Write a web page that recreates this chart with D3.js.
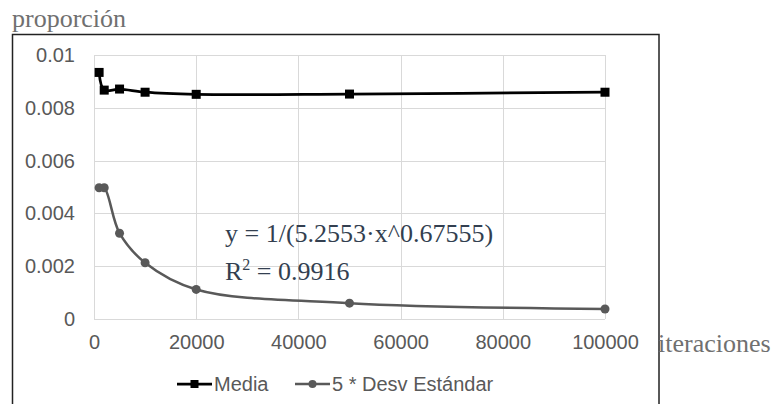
<!DOCTYPE html>
<html>
<head>
<meta charset="utf-8">
<script src="https://cdn.jsdelivr.net/npm/d3@7"></script>
<style>
  body { margin: 0; background: #fff; }
  svg { display: block; }
</style>
</head>
<body>
<div id="chart"></div>
<script>
const iterations = [1000, 2000, 5000, 10000, 20000, 50000, 100000];
const media = [0.00934, 0.00867, 0.00871, 0.00859, 0.00851, 0.00852, 0.00859];
const desv5 = [0.00497, 0.00497, 0.00325, 0.00213, 0.00112, 0.0006, 0.00038];
const xTicks = [0, 20000, 40000, 60000, 80000, 100000];
const yTicks = [0, 0.002, 0.004, 0.006, 0.008, 0.01];
const seriesNames = ['Media', '5 * Desv Estándar'];
const trendText = 'y = 1/(5.2553·x^0.67555)';
const r2Value = '0.9916';

const width = 775, height = 404;
const plot = { left: 94, right: 605, top: 55, bottom: 319 };

const svg = d3.select('#chart').append('svg')
  .attr('width', width)
  .attr('height', height);

// chart frame (bottom edge is cut off in the picture)
svg.append('rect')
  .attr('x', 12.5).attr('y', 34.5)
  .attr('width', 646.5).attr('height', 400)
  .attr('fill', 'none')
  .attr('stroke', '#222')
  .attr('stroke-width', 1.5);

const x = d3.scaleLinear().domain([0, 100000]).range([plot.left, plot.right]);
const y = d3.scaleLinear().domain([0, 0.01]).range([plot.bottom, plot.top]);

// grid
svg.append('g').selectAll('line.h')
  .data(yTicks).enter().append('line')
  .attr('x1', plot.left).attr('x2', plot.right)
  .attr('y1', d => Math.round(y(d)) + 0.5).attr('y2', d => Math.round(y(d)) + 0.5)
  .attr('stroke', '#d9d9d9').attr('stroke-width', 1);

svg.append('g').selectAll('line.v')
  .data(xTicks).enter().append('line')
  .attr('y1', plot.top).attr('y2', plot.bottom)
  .attr('x1', d => Math.round(x(d)) + 0.5).attr('x2', d => Math.round(x(d)) + 0.5)
  .attr('stroke', '#d9d9d9').attr('stroke-width', 1);

// axes labels
const font = 'Liberation Sans, Arial, sans-serif';
const yAxis = svg.append('g')
  .attr('transform', `translate(${plot.left},0)`)
  .call(d3.axisLeft(y).tickValues(yTicks).tickSize(0).tickPadding(19)
    .tickFormat(d => d3.format('~g')(+d.toFixed(4))));
const xAxis = svg.append('g')
  .attr('transform', `translate(0,${plot.bottom})`)
  .call(d3.axisBottom(x).tickValues(xTicks).tickSize(0).tickPadding(16)
    .tickFormat(d3.format('d')));
[yAxis, xAxis].forEach(a => {
  a.select('.domain').remove();
  a.selectAll('text')
    .attr('fill', '#595959')
    .style('font-family', font)
    .style('font-size', '20px');
});

// axis titles
svg.append('text')
  .attr('x', 12).attr('y', 27)
  .attr('fill', '#707070')
  .style('font-family', 'Liberation Serif, Times New Roman, serif')
  .style('font-size', '26px')
  .text('proporción');

svg.append('text')
  .attr('x', 658).attr('y', 352)
  .attr('fill', '#707070')
  .style('font-family', 'Liberation Serif, Times New Roman, serif')
  .style('font-size', '26px')
  .text('iteraciones');

// lines
const mediaData = iterations.map((it, i) => ({ x: it, y: media[i] }));
const desvData = iterations.map((it, i) => ({ x: it, y: desv5[i] }));

const line = d3.line()
  .x(d => x(d.x))
  .y(d => y(d.y))
  .curve(d3.curveCatmullRom.alpha(0.5));

svg.append('path')
  .datum(desvData)
  .attr('fill', 'none')
  .attr('stroke', '#595959')
  .attr('stroke-width', 2.5)
  .attr('d', line);

svg.append('g').selectAll('circle')
  .data(desvData).enter().append('circle')
  .attr('cx', d => x(d.x))
  .attr('cy', d => y(d.y))
  .attr('r', 4.5)
  .attr('fill', '#595959');

svg.append('path')
  .datum(mediaData)
  .attr('fill', 'none')
  .attr('stroke', '#000')
  .attr('stroke-width', 2.75)
  .attr('d', line);

svg.append('g').selectAll('rect')
  .data(mediaData).enter().append('rect')
  .attr('x', d => x(d.x) - 4.5)
  .attr('y', d => y(d.y) - 4.5)
  .attr('width', 9).attr('height', 9)
  .attr('fill', '#000');

// trendline label
const serif = 'Liberation Serif, Times New Roman, serif';
svg.append('text')
  .attr('x', 225).attr('y', 242)
  .attr('fill', '#333F50')
  .style('font-family', serif)
  .style('font-size', '26px')
  .text(trendText);

const r2 = svg.append('text')
  .attr('x', 225).attr('y', 280)
  .attr('fill', '#333F50')
  .style('font-family', serif)
  .style('font-size', '26px');
r2.append('tspan').text('R');
r2.append('tspan').attr('dy', -10).style('font-size', '16px').text('2');
r2.append('tspan').attr('dy', 10).text(' = ' + r2Value);

// legend
const legend = svg.append('g').attr('transform', 'translate(0,384)');
const items = [
  { name: seriesNames[0], x0: 177, color: '#000', shape: 'square', sw: 2.75 },
  { name: seriesNames[1], x0: 295, color: '#595959', shape: 'circle', sw: 2.5 }
];
items.forEach(it => {
  legend.append('line')
    .attr('x1', it.x0).attr('x2', it.x0 + 35)
    .attr('y1', 0).attr('y2', 0)
    .attr('stroke', it.color).attr('stroke-width', it.sw);
  if (it.shape === 'square') {
    legend.append('rect')
      .attr('x', it.x0 + 17.5 - 4).attr('y', -4)
      .attr('width', 8).attr('height', 8)
      .attr('fill', it.color);
  } else {
    legend.append('circle')
      .attr('cx', it.x0 + 17.5).attr('cy', 0).attr('r', 4)
      .attr('fill', it.color);
  }
  legend.append('text')
    .attr('x', it.x0 + 37).attr('y', 7)
    .attr('fill', '#595959')
    .style('font-family', font)
    .style('font-size', '20px')
    .text(it.name);
});
</script>
</body>
</html>
